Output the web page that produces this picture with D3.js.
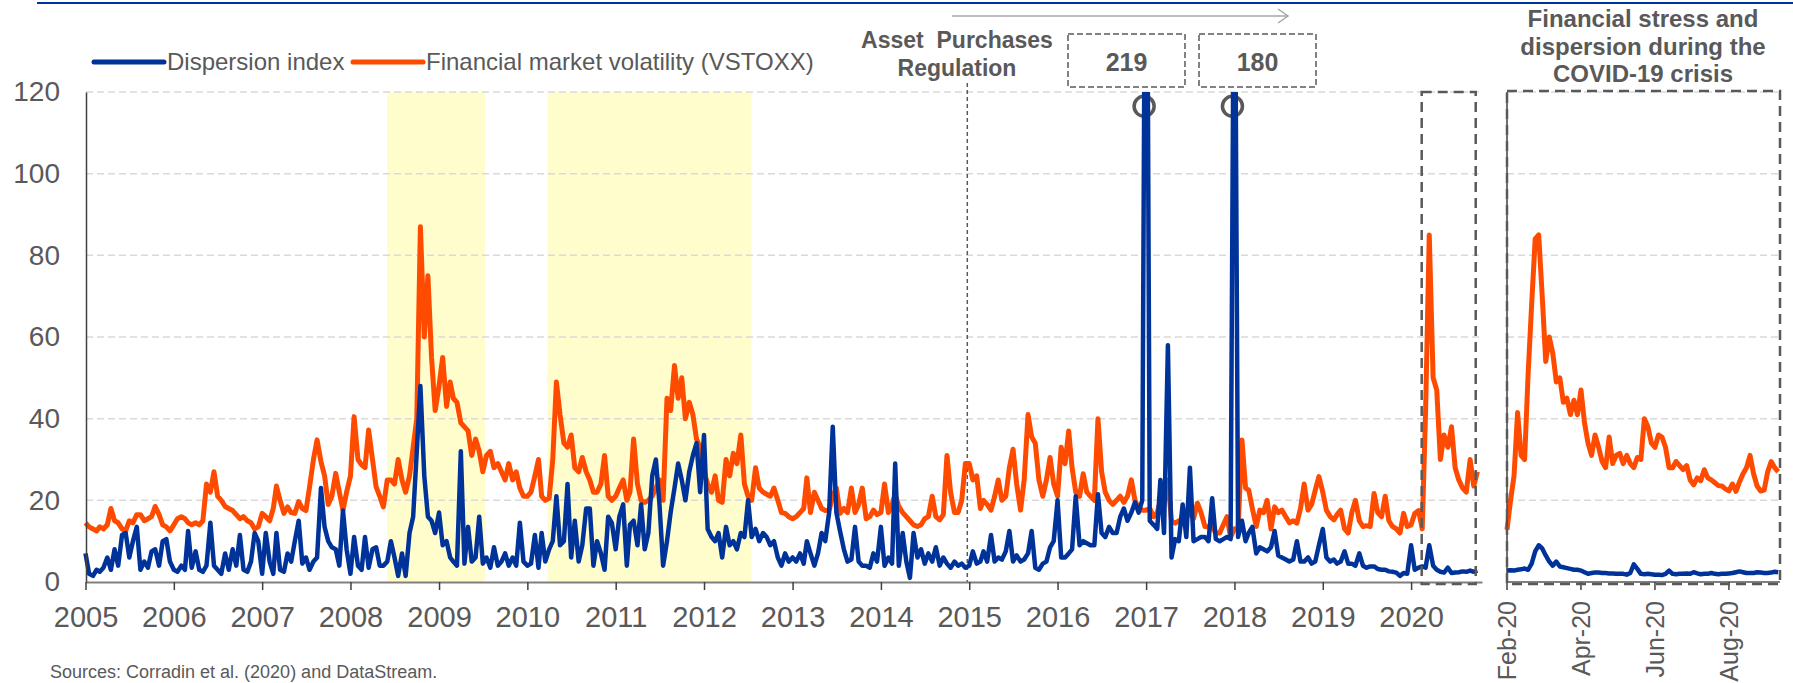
<!DOCTYPE html>
<html>
<head>
<meta charset="utf-8">
<script src="https://cdn.jsdelivr.net/npm/d3@7"></script>
<style>
  body { margin: 0; background: #fff; }
  text { font-family: "Liberation Sans", Arial, sans-serif; fill: #595959; }
</style>
</head>
<body>
<svg width="1793" height="683"></svg>
<script>
(function () {

  var yTicks = [0, 20, 40, 60, 80, 100, 120]
  var covidTickLabels = ['Feb-20', 'Apr-20', 'Jun-20', 'Aug-20']
  var legendNames = ['Dispersion index', 'Financial market volatility (VSTOXX)']
  var stressStarts = ['2008-06-01', '2010-03-25']
  var stressEnds = ['2009-07-11', '2012-07-15']

  // readings on the 1st and 16th of each month, Jan 2005 - Oct 2020
  var vstoxx = [
    14.5, 13.5, 13, 12.5, 13.5, 13, 14, 18, 15, 14.5, 13, 12.5, 15, 14.5, 16.5, 16.5, 15, 15.5, 16, 18.5, 16.5, 14, 13.5, 12.5,
    14, 15.5, 16, 15.5, 14.5, 14, 14.5, 14, 15, 24, 22, 27, 21, 20, 18.5, 18, 17.5, 16.5, 15.5, 16, 15, 14.5, 13, 13.5,
    16.8, 16, 15, 18, 23.5, 20, 16.8, 18.4, 17, 16.8, 19.7, 18, 17.5, 23.3, 30, 34.8, 29.5, 26, 19, 21, 26.6, 22, 17.6, 22,
    26, 40.5, 30, 28.7, 28, 37.2, 30, 23.3, 21, 18.4, 25, 25, 24, 30, 25, 22, 26, 33, 40, 87, 60, 75, 55, 42,
    48, 55, 43, 49, 45, 44, 39, 38, 37, 31, 35, 32, 27, 31, 32, 28, 29, 27, 25, 29, 25, 27, 23, 21,
    21, 22, 26, 30, 21, 20, 20.5, 30, 49, 41, 34, 33, 36, 28, 27, 30.5, 27, 25, 22, 22, 24, 31, 21, 20,
    21, 23, 25, 20, 22, 35, 24, 20, 19.5, 20, 21, 23, 25, 20, 45, 42, 53, 45, 50, 40, 44, 41, 35, 33,
    27, 24, 22, 26, 20, 19.5, 30, 26, 31.5, 29, 36, 24, 21, 20, 28, 23, 22, 21.5, 21, 23, 20, 17, 16.8, 16,
    15.5, 16, 17, 18, 25.5, 17, 22, 20, 18, 17.5, 17.6, 21, 23, 16.8, 18, 17, 23, 17, 19, 23, 15.5, 16, 17.6, 16.5,
    17, 24, 17, 19, 21.5, 18.5, 17, 16, 15, 14, 13.6, 14, 15.5, 16, 21, 16, 15.2, 16.5, 31, 22, 17, 17, 20, 29,
    29, 25, 26, 18, 20, 19, 17.6, 21, 25, 20, 21, 28, 32.5, 24, 17.6, 25, 41, 35.5, 34, 25, 21, 25, 30.5, 24,
    21, 33, 29, 37, 28, 22, 21, 26.5, 22, 21, 20, 40, 27, 22, 20, 19, 20, 21, 19.5, 21, 25, 20, 18, 17.6,
    17.6, 18, 16, 17, 20, 19, 25, 15, 14.4, 15, 15.2, 16, 16.8, 15.5, 19.3, 17, 13.6, 13.5, 13.5, 12, 12, 14, 16, 11,
    13, 12.7, 34.8, 23, 22.5, 18, 13.6, 17.6, 17, 20, 13, 18.4, 17, 17.6, 16, 14.5, 15, 14.4, 18, 24, 17.6, 19, 22.5, 25.8,
    22, 17.6, 16, 15.2, 16.5, 17.6, 13, 12, 17, 20, 15, 13.6, 13.8, 13.6, 21.7, 17, 16, 21, 15, 13.6, 13, 12, 16.8, 13.6,
    14, 16.8, 17.5, 13, 42, 85, 50, 47, 30, 36, 33, 38, 28, 25, 23, 22, 30, 23.5, 27
  ]

  var dispersion = [
    7, 2, 1.5, 3, 2.5, 3.5, 6, 3, 8, 4, 11.5, 12, 6, 10, 13.5, 3, 5, 3.5, 7.5, 8, 4, 10, 10.5, 5,
    3, 2.5, 4, 3, 12.5, 3.5, 7.5, 3, 2.5, 4, 14.5, 4, 3, 2, 7, 3, 8, 4, 11.5, 3, 2.5, 5, 12, 10,
    2, 12, 5, 2, 12, 3, 2.5, 7, 5, 10, 15, 4.5, 6, 3, 5, 6, 23, 13.5, 10, 8.5, 8, 4, 17.5, 8,
    2, 11, 4, 3, 11, 3.5, 8, 8.5, 4, 4, 5, 10, 6, 1.5, 7, 1.5, 12, 16, 32, 48, 26, 16, 15, 12,
    17, 9, 10, 6, 5, 4, 32, 4.5, 13.5, 5, 6, 16, 4.5, 6, 3.5, 8.5, 4, 5, 7, 4, 6, 4, 14.5, 5,
    4, 4.5, 11.5, 3.5, 12, 5, 8, 10, 21, 9, 10, 24, 6, 15, 5, 9, 18, 18, 4, 10, 7, 3, 16, 14.5,
    8, 16, 19, 4, 14, 15, 9, 19, 8, 12, 26, 30, 19, 4, 10, 17, 23, 29, 25, 20, 27, 31, 34, 22,
    36, 13, 11, 10, 12, 6, 13.5, 9, 10, 8, 12, 11, 20, 11, 13, 10, 12, 11, 9, 10, 6, 4, 7, 5,
    6, 5, 7, 4.5, 10, 7, 4, 7, 12, 10, 17, 38, 17, 12.5, 8, 5, 5.5, 13.5, 5, 4, 4, 3.5, 7, 5,
    13.5, 4, 6, 4.5, 29, 4, 12, 5, 1, 12, 6, 8, 4.5, 7, 5, 8.5, 4, 6, 4.5, 3.5, 5, 4, 4.5, 3.5,
    4, 7.5, 4.5, 5, 7.5, 5, 11.5, 5, 6, 5.5, 7.5, 12.5, 5, 6.5, 5, 5.5, 7, 12.5, 3.5, 3, 4.5, 5, 8.5, 10,
    20, 6, 6, 7, 8, 21, 9, 10, 9.5, 9, 9, 21.5, 12, 11, 13.5, 12, 12, 16, 18, 15, 17, 19.5, 17, 20,
    219, 15, 14, 13, 25, 12, 58, 6, 10.5, 10, 19, 11, 28, 10, 10.5, 11, 11, 10, 20.5, 10.5, 10, 10.5, 11, 10.5,
    180, 11, 15, 10, 12, 13.5, 7, 8.5, 8, 7.5, 8.5, 12.5, 6.5, 6, 5.5, 5, 5.5, 10, 5, 5, 6, 4.5, 5, 9,
    13, 6, 5, 5.5, 4.5, 5, 7.5, 4.5, 4.5, 4, 7, 4, 3.5, 3.8, 3.8, 3.2, 3, 3, 2.6, 2.5, 2.3, 1.5, 2.2, 2,
    9, 3, 3.5, 3.8, 3.5, 9, 4, 3, 2.5, 2.3, 3.5, 2.2, 2.3, 2.4, 2.6, 2.5, 2.8, 2.5, 2.8
  ]

  // every second business day, 20 Feb 2020 - 24 Sep 2020
  var covidVstoxx = [
    12.8, 20, 26, 41.5, 31, 30, 51, 68, 84, 85,
    70, 54, 60, 56, 49, 50, 44, 45, 41, 44.5,
    41, 47, 39, 34, 31, 36, 33, 29.5, 28, 35.5,
    29, 31, 31.5, 29, 31, 29, 28, 30.5, 30, 40,
    38, 34, 33, 36, 35.5, 33, 28, 28, 29.5, 28.5,
    27.5, 28.5, 25, 23.8, 25.5, 24.8, 27.5, 25.5, 25, 24.3,
    23.6, 23.5, 22.8, 22.3, 24, 22.2, 24.5, 26.5, 28, 31,
    26.5, 23.5, 22.3, 22.5, 27, 29.5, 28, 27
  ]
  var covidDispersion = [
    2.8, 2.9, 2.8, 3.0, 3.1, 3.3, 3.0, 4.5, 7.5, 9.0,
    8.2, 6.5, 5.0, 4.0, 5.0, 3.8, 3.6, 3.4, 3.2, 3.0,
    3.0, 2.8, 2.4, 2.0, 2.2, 2.3, 2.3, 2.2, 2.2, 2.1,
    2.1, 2.0, 2.0, 2.0, 1.8, 2.2, 4.3, 3.2, 2.0, 1.9,
    2.0, 1.9, 1.8, 1.8, 1.7, 2.0, 2.8, 2.0, 1.9, 2.0,
    2.0, 2.1, 2.0, 2.4, 2.1, 1.9, 2.0, 2.0, 2.2, 2.0,
    1.9, 2.0, 2.0, 2.1, 2.2, 2.4, 2.6, 2.4, 2.2, 2.2,
    2.2, 2.4, 2.3, 2.2, 2.2, 2.3, 2.5, 2.4
  ]

  var blue = '#003399'
  var orange = '#ff4b00'
  var grey = '#595959'
  var parse = d3.timeParse('%Y-%m-%d')

  var halfMonth = function (i) {
    return new Date(2005, Math.floor(i / 2), i % 2 ? 16 : 1)
  }
  var covidDays = d3.timeDay.range(parse('2020-02-20'), parse('2020-09-25'))
    .filter(function (d) { return d.getDay() % 6 !== 0 })

  // Scales
  var xScale = d3.scaleTime().domain([parse('2005-01-01'), parse('2020-10-20')]).range([85.5, 1482])
  var yScale = d3.scaleLinear().domain([0, 120]).range([582, 92])
  var covidScale = d3.scaleLinear().domain([0, covidDays.length - 1]).range([1507, 1780])

  var svg = d3.select('svg')

  // top rule
  svg.append('line')
    .attr('x1', 37).attr('x2', 1793).attr('y1', 3).attr('y2', 3)
    .attr('stroke', blue).attr('stroke-width', 2)

  // shaded stress periods
  svg.selectAll('.band')
    .data(stressStarts)
    .enter().append('rect')
    .attr('x', function (d) { return xScale(parse(d)) })
    .attr('width', function (d, i) { return xScale(parse(stressEnds[i])) - xScale(parse(d)) })
    .attr('y', yScale(120))
    .attr('height', yScale(0) - yScale(120))
    .attr('fill', '#fffdcc')

  // gridlines
  var grid = yTicks.filter(function (d) { return d > 0 })
  svg.selectAll('.grid')
    .data(grid)
    .enter().append('line')
    .attr('x1', 86).attr('x2', 1482)
    .attr('y1', function (d) { return yScale(d) })
    .attr('y2', function (d) { return yScale(d) })
    .attr('stroke', '#d9d9d9').attr('stroke-width', 1.5).attr('stroke-dasharray', '7,4')
  svg.selectAll('.cgrid')
    .data(grid)
    .enter().append('line')
    .attr('x1', covidScale(0)).attr('x2', covidScale(covidDays.length - 1))
    .attr('y1', function (d) { return yScale(d) })
    .attr('y2', function (d) { return yScale(d) })
    .attr('stroke', '#d9d9d9').attr('stroke-width', 1.5).attr('stroke-dasharray', '7,4')

  // asset purchase regulation marker
  var appDate = parse('2014-12-24')
  svg.append('line')
    .attr('x1', xScale(appDate)).attr('x2', xScale(appDate))
    .attr('y1', 83).attr('y2', yScale(0))
    .attr('stroke', grey).attr('stroke-width', 1.5).attr('stroke-dasharray', '4,3')

  // circles on the off-scale spikes
  var spikes = dispersion
    .map(function (v, i) { return { date: halfMonth(i), value: v } })
    .filter(function (d) { return d.value > 120 })

  svg.selectAll('.ring')
    .data(spikes)
    .enter().append('circle')
    .attr('cx', function (d) { return xScale(d.date) - 2 })
    .attr('cy', yScale(116.5))
    .attr('r', 10)
    .attr('fill', 'none').attr('stroke', grey).attr('stroke-width', 3.5)

  // the lines
  svg.append('clipPath').attr('id', 'plotclip')
    .append('rect').attr('x', 80).attr('y', yScale(120)).attr('width', 1410).attr('height', 510)

  var mainLine = d3.line()
    .x(function (d, i) { return xScale(halfMonth(i)) })
    .y(function (d) { return yScale(d) })

  svg.append('path')
    .datum(vstoxx)
    .attr('clip-path', 'url(#plotclip)')
    .attr('d', mainLine)
    .attr('fill', 'none').attr('stroke', orange).attr('stroke-width', 5).attr('stroke-linejoin', 'round')

  svg.append('path')
    .datum(dispersion)
    .attr('clip-path', 'url(#plotclip)')
    .attr('d', mainLine)
    .attr('fill', 'none').attr('stroke', blue).attr('stroke-width', 4.5).attr('stroke-linejoin', 'round')

  var covidLine = d3.line()
    .x(function (d, i) { return covidScale(i * 2) })
    .y(function (d) { return yScale(d) })

  svg.append('path')
    .datum(covidVstoxx)
    .attr('d', covidLine)
    .attr('fill', 'none').attr('stroke', orange).attr('stroke-width', 5).attr('stroke-linejoin', 'round')

  svg.append('path')
    .datum(covidDispersion)
    .attr('d', covidLine)
    .attr('fill', 'none').attr('stroke', blue).attr('stroke-width', 4.5).attr('stroke-linejoin', 'round')

  // axes
  var xAxis = d3.axisBottom(xScale)
    .ticks(d3.timeYear.every(1))
    .tickFormat(d3.timeFormat('%Y'))
    .tickSizeInner(8).tickSizeOuter(0).tickPadding(16)

  var gx = svg.append('g')
    .attr('transform', 'translate(0,' + yScale(0) + ')')
    .call(xAxis)
  gx.attr('font-size', 29)
  gx.select('.domain').attr('stroke', '#808080').attr('stroke-width', 2)
  gx.selectAll('.tick line').attr('stroke', '#404040').attr('stroke-width', 1.5)

  var yAxis = d3.axisLeft(yScale)
    .tickValues(yTicks)
    .tickSize(0).tickSizeOuter(0).tickPadding(26)

  var gy = svg.append('g')
    .attr('transform', 'translate(86,0)')
    .call(yAxis)
  gy.attr('font-size', 28)
  gy.select('.domain').attr('stroke', '#404040').attr('stroke-width', 1.5)

  // covid panel axes
  svg.append('line')
    .attr('x1', covidScale(0)).attr('x2', covidScale(0))
    .attr('y1', yScale(120)).attr('y2', yScale(0))
    .attr('stroke', '#404040').attr('stroke-width', 1.5)
  svg.append('line')
    .attr('x1', covidScale(0)).attr('x2', covidScale(covidDays.length - 1))
    .attr('y1', yScale(0)).attr('y2', yScale(0))
    .attr('stroke', '#808080').attr('stroke-width', 2)

  svg.selectAll('.ctick')
    .data(covidTickLabels)
    .enter().append('line')
    .attr('x1', function (d, i) { return covidScale(i * 42) })
    .attr('x2', function (d, i) { return covidScale(i * 42) })
    .attr('y1', yScale(0)).attr('y2', yScale(0) + 8)
    .attr('stroke', '#404040').attr('stroke-width', 1.5)

  svg.selectAll('.clabel')
    .data(covidTickLabels)
    .enter().append('text')
    .attr('transform', function (d, i) { return 'translate(' + covidScale(i * 42) + ',601) rotate(-90)' })
    .attr('text-anchor', 'end')
    .attr('dy', '0.35em')
    .attr('font-size', 25)
    .text(function (d) { return d })

  // dashed boxes around the covid period
  var dashBox = function (x0, x1, y0, y1) {
    svg.append('rect')
      .attr('x', x0).attr('y', y0).attr('width', x1 - x0).attr('height', y1 - y0)
      .attr('fill', 'none').attr('stroke', grey).attr('stroke-width', 2.5).attr('stroke-dasharray', '10,6')
  }
  dashBox(xScale(covidDays[0]) - 1.5, xScale(covidDays[covidDays.length - 1]), yScale(120), yScale(0) + 2)
  dashBox(covidScale(0), covidScale(covidDays.length - 1), yScale(120) - 1, yScale(0) + 2)

  // legend
  var legendColors = [blue, orange]
  var legendX = [94, 353]
  var legend = svg.selectAll('.legend')
    .data(legendNames)
    .enter().append('g')
    .attr('transform', function (d, i) { return 'translate(' + legendX[i] + ',0)' })

  legend.append('line')
    .attr('x1', 0).attr('x2', 70).attr('y1', 62).attr('y2', 62)
    .attr('stroke', function (d, i) { return legendColors[i] })
    .attr('stroke-width', 5).attr('stroke-linecap', 'round')

  legend.append('text')
    .attr('x', 73).attr('y', 70)
    .attr('font-size', 24)
    .text(function (d) { return d })

  // annotations
  svg.append('text')
    .attr('x', 957).attr('y', 48)
    .attr('text-anchor', 'middle').attr('font-size', 23).attr('font-weight', 'bold')
    .style('white-space', 'pre')
    .text('Asset  Purchases')
  svg.append('text')
    .attr('x', 957).attr('y', 76)
    .attr('text-anchor', 'middle').attr('font-size', 23).attr('font-weight', 'bold')
    .text('Regulation')

  // arrow
  svg.append('line')
    .attr('x1', 952).attr('x2', 1288).attr('y1', 16).attr('y2', 16)
    .attr('stroke', '#a6a6a6').attr('stroke-width', 1.5)
  svg.append('path')
    .attr('d', 'M1278,9 L1288,16 L1278,23')
    .attr('fill', 'none').attr('stroke', '#a6a6a6').attr('stroke-width', 1.5)

  // value boxes
  var boxX = [1068, 1199]
  svg.selectAll('.vbox')
    .data(spikes)
    .enter().append('rect')
    .attr('x', function (d, i) { return boxX[i] })
    .attr('y', 34).attr('width', 117).attr('height', 53)
    .attr('fill', 'none').attr('stroke', grey).attr('stroke-width', 1.5).attr('stroke-dasharray', '6,3')

  svg.selectAll('.vlabel')
    .data(spikes)
    .enter().append('text')
    .attr('x', function (d, i) { return boxX[i] + 58.5 })
    .attr('y', 71)
    .attr('text-anchor', 'middle').attr('font-size', 25).attr('font-weight', 'bold')
    .text(function (d) { return d.value })

  var covidTitle = ['Financial stress and', 'dispersion during the', 'COVID-19 crisis']
  svg.selectAll('.ctitle')
    .data(covidTitle)
    .enter().append('text')
    .attr('x', 1643)
    .attr('y', function (d, i) { return 27 + i * 27.5 })
    .attr('text-anchor', 'middle').attr('font-size', 24).attr('font-weight', 'bold')
    .text(function (d) { return d })

  svg.append('text')
    .attr('x', 50).attr('y', 678)
    .attr('font-size', 18)
    .text('Sources: Corradin et al. (2020) and DataStream.')

})()
</script>
</body>
</html>
